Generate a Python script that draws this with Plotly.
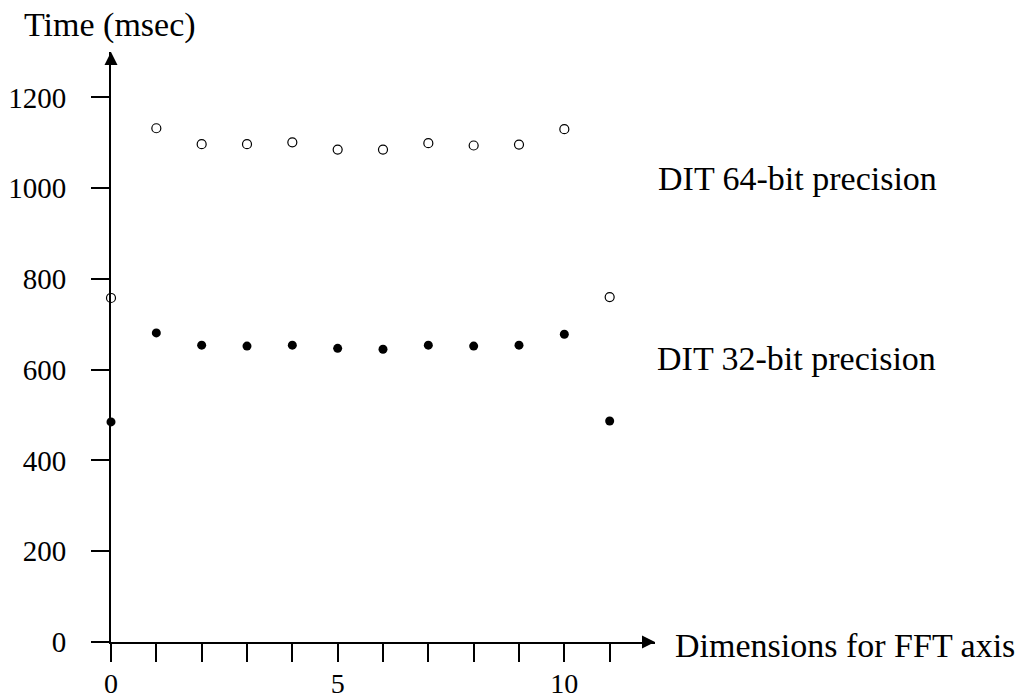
import plotly.graph_objects as go

# ---- data ----
dims = [0, 1, 2, 3, 4, 5, 6, 7, 8, 9, 10, 11]
time_64bit = [758, 1132, 1097, 1097, 1101, 1085, 1085, 1099, 1094, 1096, 1130, 760]
time_32bit = [485, 681, 654, 652, 654, 647, 645, 654, 652, 654, 678, 487]

x_tickvals = list(range(12))
x_ticktext = ["0", "", "", "", "", "5", "", "", "", "", "10", ""]
y_tickvals = [0, 200, 400, 600, 800, 1000, 1200]
y_ticktext = ["0", "200", "400", "600", "800", "1000", "1200"]

label_64 = "DIT 64-bit precision"
label_32 = "DIT 32-bit precision"
x_title = "Dimensions for FFT axis"
y_title = "Time (msec)"

FONT = "Liberation Serif"

fig = go.Figure()
fig.add_trace(go.Scatter(
    x=dims, y=time_64bit, mode="markers", cliponaxis=False,
    marker=dict(symbol="circle-open", size=9, color="black", line=dict(width=1.2, color="black")),
    showlegend=False, hoverinfo="skip"))
fig.add_trace(go.Scatter(
    x=dims, y=time_32bit, mode="markers", cliponaxis=False,
    marker=dict(symbol="circle", size=9, color="black"),
    showlegend=False, hoverinfo="skip"))

fig.update_layout(
    width=1016, height=698, autosize=False,
    margin=dict(l=111, r=361, t=52, b=56, pad=0),
    paper_bgcolor="white", plot_bgcolor="white",
    font=dict(family=FONT, color="black"),
    xaxis=dict(range=[0, 12], showgrid=False, zeroline=False, automargin=False,
               showline=True, linecolor="black", linewidth=2,
               ticks="outside", ticklen=18, tickwidth=2, tickcolor="black",
               tickvals=x_tickvals, ticktext=x_ticktext,
               tickfont=dict(family=FONT, size=28, color="black"),
               ticklabelstandoff=-3),
    yaxis=dict(range=[0, 1300], showgrid=False, zeroline=False, automargin=False,
               showline=True, linecolor="black", linewidth=2,
               ticks="outside", ticklen=18, tickwidth=2, tickcolor="black",
               tickvals=y_tickvals, ticktext=y_ticktext,
               tickfont=dict(family=FONT, size=29, color="black"),
               ticklabelstandoff=19),
)

# arrowheads on the axes
fig.add_annotation(x=0, y=1300, xref="x", yref="y", ax=0, ay=14, axref="pixel", ayref="pixel",
                   text="", showarrow=True, arrowhead=2, arrowsize=1.3, arrowwidth=2, arrowcolor="black")
fig.add_annotation(x=12, y=0, xref="x", yref="y", ax=-14, ay=0, axref="pixel", ayref="pixel",
                   text="", showarrow=True, arrowhead=2, arrowsize=1.3, arrowwidth=2, arrowcolor="black")

txt = dict(family=FONT, size=34, color="black")
fig.add_annotation(x=-0.1636, y=1.0458, xref="paper", yref="paper", text=y_title, showarrow=False,
                   xanchor="left", yanchor="middle", font=txt)
fig.add_annotation(x=1.0018, y=0.7864, xref="paper", yref="paper", text=label_64, showarrow=False,
                   xanchor="left", yanchor="middle", font=txt)
fig.add_annotation(x=1.0, y=0.4797, xref="paper", yref="paper", text=label_32, showarrow=False,
                   xanchor="left", yanchor="middle", font=txt)
fig.add_annotation(x=1.033, y=-0.0051, xref="paper", yref="paper", text=x_title, showarrow=False,
                   xanchor="left", yanchor="middle", font=txt)

# remove the default page margin so the 1016x698 figure fills the window exactly
fig.write_html("out.html",
               config={"displayModeBar": False, "staticPlot": True},
               post_script="document.body.style.margin='0';document.body.style.overflow='hidden';")
